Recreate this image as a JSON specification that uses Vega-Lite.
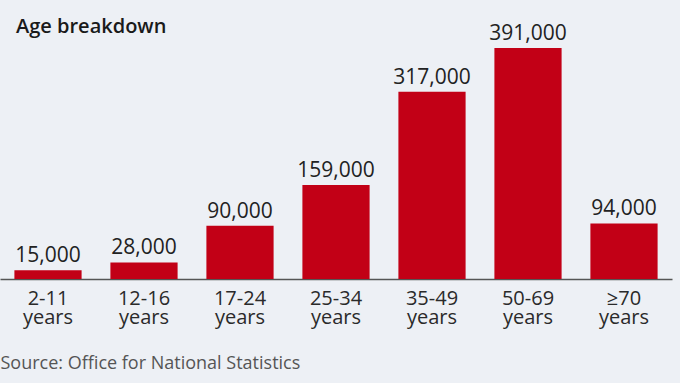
{
  "$schema": "https://vega.github.io/schema/vega-lite/v6.json",
  "autosize": "none",
  "width": 672,
  "height": 231,
  "padding": {"top": 48, "left": 0, "right": 8, "bottom": 104},
  "background": "#edf0f5",
  "title": {
    "text": "Age breakdown",
    "anchor": "start",
    "frame": "group",
    "dx": 16,
    "dy": 42,
    "offset": 12,
    "baseline": "alphabetic",
    "font": "Open Sans",
    "fontSize": 20,
    "fontWeight": 600,
    "color": "#1a1a1a"
  },
  "data": {
    "values": [
      {"age": "2-11 years", "count": 15000},
      {"age": "12-16 years", "count": 28000},
      {"age": "17-24 years", "count": 90000},
      {"age": "25-34 years", "count": 159000},
      {"age": "35-49 years", "count": 317000},
      {"age": "50-69 years", "count": 391000},
      {"age": "≥70 years", "count": 94000}
    ]
  },
  "encoding": {
    "x": {
      "field": "age",
      "type": "nominal",
      "sort": null,
      "scale": {"paddingInner": 0.3, "paddingOuter": 0.15},
      "axis": {
        "title": "Source: Office for National Statistics",
        "titleX": 0,
        "titleY": 89,
        "titleAlign": "left",
        "titleAnchor": "start",
        "titleBaseline": "alphabetic",
        "titleFont": "Open Sans",
        "titleFontSize": 18,
        "titleFontWeight": "normal",
        "titleColor": "#555555",
        "labelExpr": "split(datum.label, ' ')",
        "labelAngle": 0,
        "labelFont": "Open Sans",
        "labelFontSize": 20,
        "labelLineHeight": 19,
        "labelColor": "#2a2a2a",
        "labelPadding": 9,
        "ticks": false,
        "domainColor": "#555555",
        "domainWidth": 1.5,
        "grid": false
      }
    },
    "y": {
      "field": "count",
      "type": "quantitative",
      "scale": {"domain": [0, 391000], "nice": false},
      "axis": null
    }
  },
  "layer": [
    {"mark": {"type": "bar", "color": "#c20016"}},
    {
      "mark": {
        "type": "text",
        "baseline": "alphabetic",
        "dy": -8,
        "font": "Open Sans",
        "fontSize": 21,
        "color": "#222222"
      },
      "encoding": {"text": {"field": "count", "type": "quantitative", "format": ","}}
    }
  ],
  "config": {"view": {"stroke": null}}
}
